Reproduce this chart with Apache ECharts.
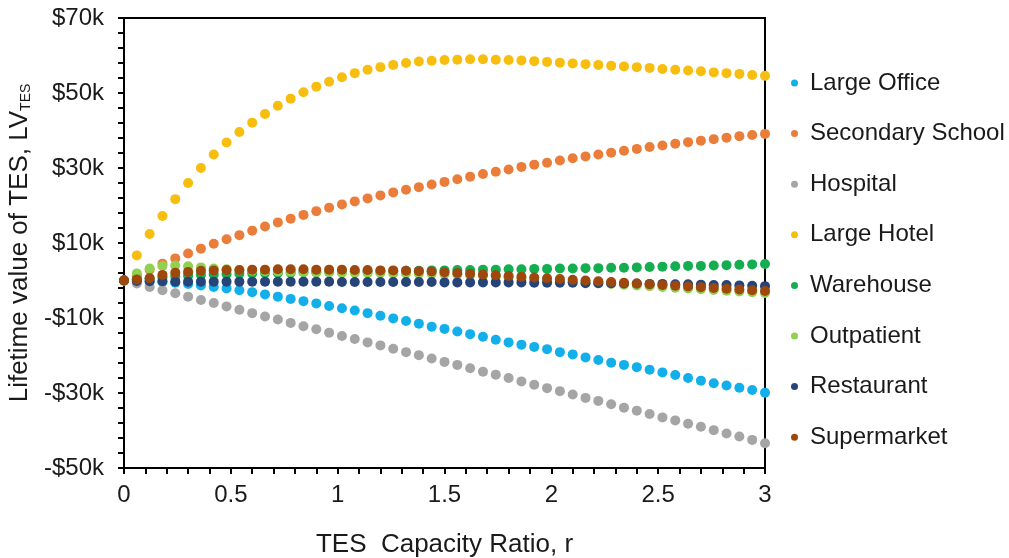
<!DOCTYPE html>
<html><head><meta charset="utf-8">
<script src="https://cdn.jsdelivr.net/npm/echarts@6/dist/echarts.min.js"></script>
<style>html,body{margin:0;padding:0;background:#fff}#c{width:1009px;height:558px}</style>
</head><body><div id="c"></div><script>
// TES capacity ratio r
const rValues = [0, 0.06, 0.12, 0.18, 0.24, 0.3, 0.36, 0.42, 0.48, 0.54, 0.6, 0.66, 0.72, 0.78, 0.84, 0.9, 0.96, 1.02, 1.08, 1.14, 1.2, 1.26, 1.32, 1.38, 1.44, 1.5, 1.56, 1.62, 1.68, 1.74, 1.8, 1.86, 1.92, 1.98, 2.04, 2.1, 2.16, 2.22, 2.28, 2.34, 2.4, 2.46, 2.52, 2.58, 2.64, 2.7, 2.76, 2.82, 2.88, 2.94, 3.0];
// Lifetime value, thousands of $
const largeOffice = [0, -0.1, -0.2, -0.4, -0.6, -0.9, -1.3, -1.7, -2.1, -2.6, -3.1, -3.7, -4.3, -4.9, -5.5, -6.1, -6.8, -7.4, -8.0, -8.7, -9.4, -10.1, -10.8, -11.5, -12.3, -12.9, -13.6, -14.3, -15.0, -15.8, -16.5, -17.1, -17.7, -18.3, -19.1, -19.7, -20.5, -21.2, -21.9, -22.5, -23.1, -23.8, -24.5, -25.2, -26.0, -26.7, -27.4, -28.0, -28.6, -29.2, -29.9];
const secondarySchool = [0, 1.3, 2.9, 4.5, 5.9, 7.2, 8.5, 9.8, 11.0, 12.1, 13.3, 14.4, 15.5, 16.5, 17.5, 18.5, 19.4, 20.3, 21.1, 21.9, 22.7, 23.5, 24.2, 24.9, 25.6, 26.3, 27.0, 27.7, 28.4, 29.0, 29.6, 30.3, 30.9, 31.4, 32.0, 32.6, 33.1, 33.6, 34.1, 34.6, 35.1, 35.6, 36.0, 36.5, 36.9, 37.3, 37.7, 38.1, 38.5, 38.8, 39.1];
const hospital = [0, -0.8, -1.7, -2.6, -3.4, -4.3, -5.2, -6.0, -6.9, -7.8, -8.7, -9.6, -10.4, -11.3, -12.2, -13.0, -13.9, -14.8, -15.6, -16.5, -17.3, -18.2, -19.1, -19.9, -20.8, -21.7, -22.5, -23.4, -24.3, -25.1, -26.0, -26.9, -27.8, -28.7, -29.5, -30.4, -31.3, -32.1, -33.0, -33.9, -34.7, -35.6, -36.5, -37.3, -38.2, -39.0, -39.9, -40.8, -41.6, -42.5, -43.4];
const largeHotel = [0, 6.7, 12.4, 17.2, 21.7, 26.0, 30.0, 33.6, 36.8, 39.6, 42.1, 44.4, 46.6, 48.5, 50.2, 51.7, 53.0, 54.2, 55.3, 56.2, 56.9, 57.5, 58.0, 58.4, 58.6, 58.8, 58.9, 59.0, 59.0, 58.9, 58.8, 58.7, 58.5, 58.3, 58.1, 57.9, 57.7, 57.5, 57.3, 57.1, 56.9, 56.7, 56.4, 56.2, 56.0, 55.8, 55.5, 55.3, 55.1, 54.8, 54.6];
const warehouse = [0, 0.3, 0.6, 0.9, 1.1, 1.3, 1.5, 1.6, 1.7, 1.8, 1.9, 2.0, 2.0, 2.1, 2.2, 2.2, 2.3, 2.3, 2.4, 2.4, 2.5, 2.5, 2.6, 2.6, 2.7, 2.7, 2.8, 2.8, 2.9, 2.9, 3.0, 3.0, 3.1, 3.1, 3.2, 3.2, 3.3, 3.3, 3.4, 3.4, 3.5, 3.6, 3.7, 3.8, 3.9, 3.9, 4.0, 4.1, 4.2, 4.3, 4.4];
const outpatient = [0, 1.9, 3.2, 3.9, 4.0, 3.8, 3.5, 3.2, 3.0, 2.8, 2.6, 2.5, 2.4, 2.3, 2.3, 2.2, 2.2, 2.1, 2.1, 2.0, 2.0, 1.9, 1.9, 1.8, 1.8, 1.7, 1.6, 1.4, 1.2, 1.0, 0.8, 0.5, 0.3, 0.1, -0.1, -0.3, -0.5, -0.7, -0.9, -1.1, -1.3, -1.5, -1.7, -1.9, -2.1, -2.3, -2.5, -2.7, -2.9, -3.1, -3.3];
const restaurant = [0, -0.1, -0.2, -0.2, -0.3, -0.3, -0.3, -0.3, -0.3, -0.3, -0.3, -0.3, -0.3, -0.3, -0.3, -0.3, -0.3, -0.4, -0.4, -0.4, -0.4, -0.4, -0.4, -0.4, -0.4, -0.5, -0.5, -0.5, -0.5, -0.5, -0.5, -0.5, -0.6, -0.6, -0.6, -0.6, -0.7, -0.7, -0.7, -0.8, -0.8, -0.9, -0.9, -1.0, -1.0, -1.1, -1.2, -1.2, -1.3, -1.4, -1.5];
const supermarket = [0, 0.3, 0.6, 1.5, 2.1, 2.3, 2.6, 2.7, 2.8, 2.8, 2.9, 2.9, 3.0, 3.0, 3.0, 2.9, 2.9, 2.9, 2.8, 2.8, 2.7, 2.7, 2.6, 2.5, 2.4, 2.2, 2.0, 1.8, 1.6, 1.4, 1.2, 1.0, 0.8, 0.6, 0.4, 0.2, 0.0, -0.2, -0.4, -0.6, -0.8, -1.0, -1.2, -1.4, -1.6, -1.8, -2.0, -2.2, -2.4, -2.6, -2.8];

const seriesNames = ['Large Office', 'Secondary School', 'Hospital', 'Large Hotel', 'Warehouse', 'Outpatient', 'Restaurant', 'Supermarket'];
const seriesValues = [largeOffice, secondarySchool, hospital, largeHotel, warehouse, outpatient, restaurant, supermarket];
const seriesColors = ['#12AFEA', '#EB7D3A', '#A5A5A5', '#F7BE0F', '#14AD50', '#92D050', '#264478', '#9E480E'];

const FONT = "'Liberation Sans', Arial, sans-serif";
const TXT = '#1a1a1a';

const chart = echarts.init(document.getElementById('c'), null, {renderer: 'canvas'});
chart.setOption({
  animation: false,
  backgroundColor: '#fff',
  textStyle: {fontFamily: FONT},
  grid: {left: 124, right: 244, top: 18, bottom: 90, show: true, borderColor: '#000', borderWidth: 2, containLabel: false, outerBoundsMode: 'none'},
  legend: {
    orient: 'vertical', left: 786, top: 66,
    icon: 'circle', itemWidth: 21, itemHeight: 7, itemGap: 26.6,
    textStyle: {fontFamily: FONT, fontSize: 24, color: TXT, lineHeight: 24},
    data: seriesNames, selectedMode: false
  },
  xAxis: {
    type: 'value', min: 0, max: 3, interval: 0.5,
    name: 'TES  Capacity Ratio, r', nameLocation: 'middle', nameGap: 64,
    nameTextStyle: {fontFamily: FONT, fontSize: 26, color: TXT},
    axisLine: {show: true, onZero: false, lineStyle: {color: '#000', width: 2}},
    axisTick: {show: true, inside: false, length: 6, lineStyle: {color: '#000', width: 2}},
    minorTick: {show: true, splitNumber: 5, length: 6, lineStyle: {color: '#000', width: 2}},
    splitLine: {show: false},
    axisLabel: {fontFamily: FONT, fontSize: 24, color: TXT, margin: 15, formatter: v => String(v)}
  },
  yAxis: {
    type: 'value', min: -50, max: 70, interval: 20,
    name: 'Lifetime value of TES, LV{sub|TES}', nameLocation: 'middle', nameGap: 83, nameRotate: 90,
    nameTextStyle: {fontFamily: FONT, fontSize: 26, color: TXT,
      rich: {sub: {fontFamily: FONT, fontSize: 14, color: TXT, verticalAlign: 'bottom'}}},
    axisLine: {show: true, onZero: false, lineStyle: {color: '#000', width: 2}},
    axisTick: {show: true, inside: false, length: 6, lineStyle: {color: '#000', width: 2}},
    minorTick: {show: true, splitNumber: 5, length: 6, lineStyle: {color: '#000', width: 2}},
    splitLine: {show: false},
    axisLabel: {fontFamily: FONT, fontSize: 24, color: TXT, margin: 20,
      formatter: v => (v < 0 ? '-$' + Math.abs(v) : '$' + v) + 'k'}
  },
  series: seriesNames.map((n, k) => ({
    name: n, type: 'scatter', symbol: 'circle', symbolSize: 10,
    itemStyle: {color: seriesColors[k], opacity: 1},
    emphasis: {disabled: true},
    data: rValues.map((r, i) => [r, seriesValues[k][i]])
  }))
});
</script></body></html>
